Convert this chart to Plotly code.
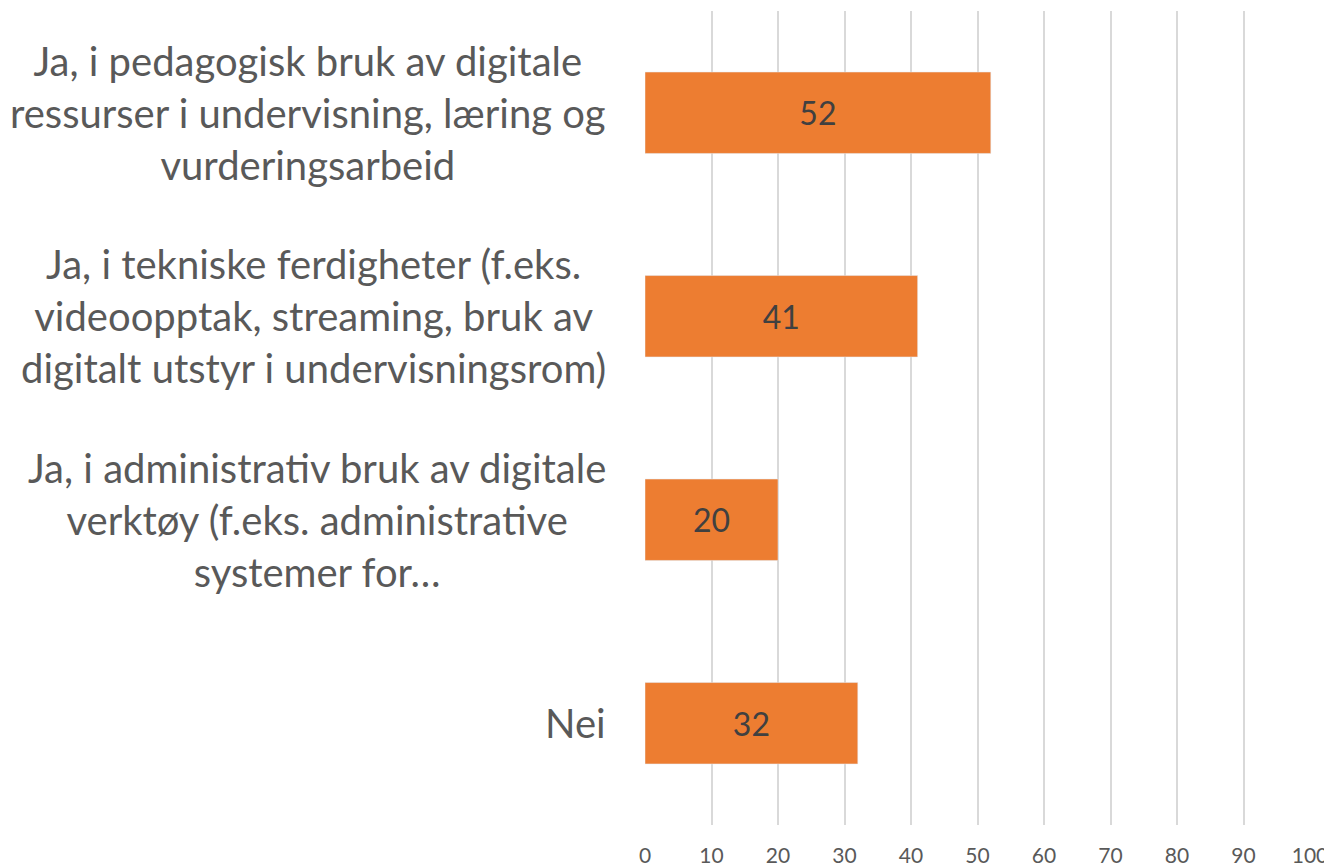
import plotly.graph_objects as go

# categories from top to bottom
categories = [
    "Ja, i pedagogisk bruk av digitale<br>ressurser i undervisning, læring og<br>vurderingsarbeid",
    "Ja, i tekniske ferdigheter (f.eks.<br>videoopptak, streaming, bruk av<br>digitalt utstyr i undervisningsrom)",
    "Ja, i administrativ bruk av digitale<br>verktøy (f.eks. administrative<br>systemer for…",
    "Nei",
]
values = [52, 41, 20, 32]
x_ticks = [0, 10, 20, 30, 40, 50, 60, 70, 80, 90, 100]

FONT = "Lato, Calibri, sans-serif"

fig = go.Figure()

fig.add_trace(go.Bar(
    x=values,
    y=categories,
    orientation="h",
    marker_color="#ED7D31",
    text=values,
    textposition="inside",
    insidetextanchor="middle",
    textfont=dict(family=FONT, size=32, color="#404040"),
    hoverinfo="x+y",
))

# category labels as centred multi-line text
for cat in categories:
    fig.add_annotation(
        x=0, xref="paper", xshift=-37,
        y=cat, yref="y",
        text=cat,
        showarrow=False,
        xanchor="right",
        yanchor="middle",
        align="center",
        font=dict(family=FONT, size=40, color="#595959"),
    )

# page body has an 8px margin, so the figure is offset by 8px
fig.update_layout(
    width=1324,
    height=859,
    margin=dict(l=637, r=22, t=3, b=42, autoexpand=False),
    plot_bgcolor="white",
    paper_bgcolor="white",
    showlegend=False,
    bargap=0.6,
    font=dict(family=FONT, color="#595959"),
    xaxis=dict(
        range=[0, 100],
        tickvals=x_ticks,
        showgrid=True,
        gridcolor="#D9D9D9",
        gridwidth=1.5,
        zeroline=False,
        showline=False,
        automargin=False,
        ticks="outside",
        ticklen=12,
        tickcolor="rgba(0,0,0,0)",
        ticklabeloverflow="allow",
        tickfont=dict(family=FONT, size=21, color="#595959"),
    ),
    yaxis=dict(
        autorange="reversed",
        showticklabels=False,
        showgrid=False,
        zeroline=False,
        automargin=False,
    ),
)

fig.write_html("out.html")
